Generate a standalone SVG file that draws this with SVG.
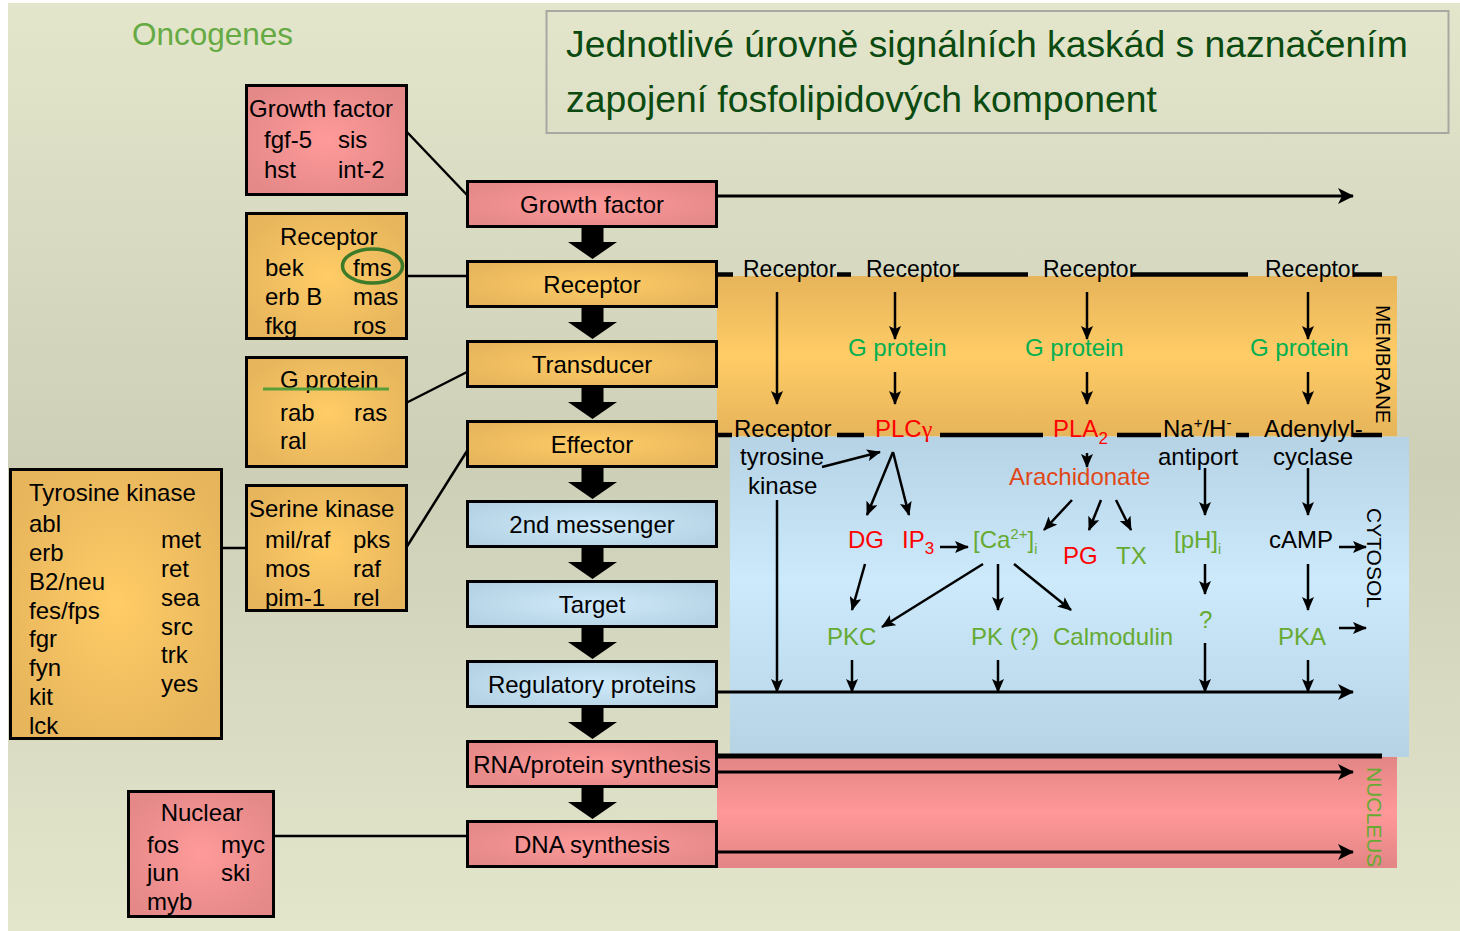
<svg xmlns="http://www.w3.org/2000/svg" width="1460" height="931" viewBox="0 0 1460 931">
<defs>
<linearGradient id="bg" x1="0" y1="0" x2="0" y2="1">
<stop offset="0" stop-color="#e3e6cb"/><stop offset="0.5" stop-color="#cdd0b7"/><stop offset="1" stop-color="#e3e6cb"/>
</linearGradient>
<radialGradient id="gPink" cx="0.5" cy="0.5" r="0.6">
<stop offset="0" stop-color="#ff9a9a"/><stop offset="1" stop-color="#e48888"/>
</radialGradient>
<radialGradient id="gOr" cx="0.5" cy="0.5" r="0.6">
<stop offset="0" stop-color="#ffcc66"/><stop offset="1" stop-color="#e6b55c"/>
</radialGradient>
<radialGradient id="gBlue" cx="0.5" cy="0.5" r="0.6">
<stop offset="0" stop-color="#cfeafa"/><stop offset="1" stop-color="#b4d2e4"/>
</radialGradient>
<linearGradient id="memG" x1="0" y1="0" x2="0" y2="1">
<stop offset="0" stop-color="#e6b45a"/><stop offset="0.5" stop-color="#ffcc66"/><stop offset="1" stop-color="#e6b45a"/>
</linearGradient>
<linearGradient id="cytG" x1="0" y1="0" x2="0" y2="1">
<stop offset="0" stop-color="#b6d3e6"/><stop offset="0.45" stop-color="#cceafb"/><stop offset="1" stop-color="#b6d3e6"/>
</linearGradient>
<linearGradient id="nucG" x1="0" y1="0" x2="0" y2="1">
<stop offset="0" stop-color="#e38585"/><stop offset="0.5" stop-color="#ff9898"/><stop offset="1" stop-color="#e38585"/>
</linearGradient>
<marker id="ah" markerWidth="14" markerHeight="12" refX="13" refY="6" orient="auto" markerUnits="userSpaceOnUse">
<path d="M0,0 L14,6 L0,12 L3,6 z" fill="#000"/>
</marker>
<marker id="ahL" markerWidth="16" markerHeight="16" refX="15" refY="8" orient="auto" markerUnits="userSpaceOnUse">
<path d="M0,0 L16,8 L0,16 L4,8 z" fill="#000"/>
</marker>
</defs>
<style>
text{font-family:"Liberation Sans",Arial,sans-serif;font-size:24px;fill:#000}
.box{stroke:#000;stroke-width:3}
.pk{fill:url(#gPink)} .or{fill:url(#gOr)} .bl{fill:url(#gBlue)}
.c{text-anchor:middle}
.ln{stroke:#000;stroke-width:2.5;fill:none}
.ar{stroke:#000;stroke-width:2.5;fill:none;marker-end:url(#ah)}
.arL{stroke:#000;stroke-width:3;fill:none;marker-end:url(#ahL)}
.mem{stroke:#000;stroke-width:4.5}
.red{fill:#ff0000} .gp{fill:#00b050} .gr{fill:#66aa33} .ora{fill:#e04818}
.sub{font-size:17px}
.sup{font-size:15px}
</style>
<rect x="0" y="0" width="1460" height="931" fill="#ffffff"/>
<rect x="8" y="3" width="1452" height="928" fill="url(#bg)"/>

<!-- title -->
<g id="title">
<rect x="546.5" y="11" width="902" height="122" fill="none" stroke="#a8a8a2" stroke-width="2"/>
<text x="566" y="57" style="font-size:37.3px;fill:#0b4a10">Jednotlivé úrovně signálních kaskád s naznačením</text>
<text x="566" y="112" style="font-size:37.3px;fill:#0b4a10">zapojení fosfolipidových komponent</text>
</g>
<text id="oncogenes" x="132" y="45" style="font-size:31.5px;fill:#66aa44">Oncogenes</text>

<!-- compartments -->
<g id="compartments">
<rect x="730" y="437" width="679" height="320" fill="url(#cytG)"/>
<rect x="717" y="276" width="680" height="160" fill="url(#memG)"/>
<rect x="717" y="757" width="680" height="111" fill="url(#nucG)"/>
<text transform="translate(1376,305) rotate(90)" style="font-size:20.5px">MEMBRANE</text>
<text transform="translate(1367,508) rotate(90)" style="font-size:21px">CYTOSOL</text>
<text transform="translate(1367,767) rotate(90)" style="font-size:21px;fill:#66aa33">NUCLEUS</text>
</g>

<!-- connectors -->
<g id="connectors">
<line class="ln" x1="406" y1="131" x2="467" y2="195"/>
<line class="ln" x1="406" y1="276" x2="467" y2="276"/>
<line class="ln" x1="406" y1="403" x2="467" y2="372"/>
<line class="ln" x1="406" y1="548" x2="467" y2="451"/>
<line class="ln" x1="221" y1="548" x2="246" y2="548"/>
<line class="ln" x1="273" y1="836" x2="467" y2="836"/>
<!-- long horizontal arrows -->
<line class="arL" x1="717" y1="196" x2="1353" y2="196"/>
<line class="arL" x1="717" y1="692" x2="1353" y2="692"/>
<line class="arL" x1="717" y1="772" x2="1353" y2="772"/>
<line class="arL" x1="717" y1="852" x2="1353" y2="852"/>
<!-- membrane dashes -->
<g class="mem">
<line x1="717" y1="274.5" x2="733" y2="274.5"/>
<line x1="837" y1="274.5" x2="851" y2="274.5"/>
<line x1="955" y1="274.5" x2="1028" y2="274.5"/>
<line x1="1132" y1="274.5" x2="1248" y2="274.5"/>
<line x1="1353" y1="274.5" x2="1382" y2="274.5"/>
<line x1="717" y1="435" x2="732" y2="435"/>
<line x1="837" y1="435" x2="864" y2="435"/>
<line x1="940" y1="435" x2="1043" y2="435"/>
<line x1="1117" y1="435" x2="1161" y2="435"/>
<line x1="1236" y1="435" x2="1249" y2="435"/>
<line x1="1353" y1="435" x2="1382" y2="435"/>
</g>
<line x1="717" y1="756" x2="1382" y2="756" stroke="#000" stroke-width="5"/>
<!-- membrane arrows -->
<line class="ar" x1="777" y1="292" x2="777" y2="404"/>
<line class="ar" x1="895" y1="292" x2="895" y2="339"/>
<line class="ar" x1="895" y1="372" x2="895" y2="404"/>
<line class="ar" x1="1087" y1="292" x2="1087" y2="339"/>
<line class="ar" x1="1087" y1="372" x2="1087" y2="404"/>
<line class="ar" x1="1308" y1="292" x2="1308" y2="339"/>
<line class="ar" x1="1308" y1="372" x2="1308" y2="404"/>
<!-- cytosol arrows -->
<line class="ar" x1="822" y1="467" x2="880" y2="452"/>
<line class="ar" x1="893" y1="452" x2="867" y2="515"/>
<line class="ar" x1="893" y1="452" x2="909" y2="515"/>
<line class="ar" x1="1087" y1="453" x2="1087" y2="467"/>
<line class="ar" x1="1072" y1="500" x2="1044" y2="530"/>
<line class="ar" x1="1101" y1="500" x2="1089" y2="530"/>
<line class="ar" x1="1116" y1="500" x2="1131" y2="530"/>
<line class="ar" x1="1205" y1="468" x2="1205" y2="515"/>
<line class="ar" x1="1308" y1="468" x2="1308" y2="515"/>
<line class="ar" x1="940" y1="547" x2="968" y2="547"/>
<line class="ar" x1="1339" y1="547" x2="1366" y2="547"/>
<line class="ar" x1="865" y1="564" x2="852" y2="610"/>
<line class="ar" x1="983" y1="564" x2="882" y2="627"/>
<line class="ar" x1="998" y1="564" x2="998" y2="610"/>
<line class="ar" x1="1014" y1="564" x2="1071" y2="610"/>
<line class="ar" x1="1205" y1="564" x2="1205" y2="594"/>
<line class="ar" x1="1308" y1="564" x2="1308" y2="610"/>
<line class="ar" x1="1339" y1="628" x2="1366" y2="628"/>
<line class="ar" x1="777" y1="500" x2="777" y2="692"/>
<line class="ar" x1="852" y1="660" x2="852" y2="692"/>
<line class="ar" x1="998" y1="660" x2="998" y2="692"/>
<line class="ar" x1="1205" y1="643" x2="1205" y2="692"/>
<line class="ar" x1="1308" y1="660" x2="1308" y2="692"/>
<!-- fat arrows -->
<g fill="#000">
<polygon points="581.5,226 603.5,226 603.5,242 617,242 592.5,259 568,242 581.5,242"/>
<polygon points="581.5,306 603.5,306 603.5,322 617,322 592.5,339 568,322 581.5,322"/>
<polygon points="581.5,386 603.5,386 603.5,402 617,402 592.5,419 568,402 581.5,402"/>
<polygon points="581.5,466 603.5,466 603.5,482 617,482 592.5,499 568,482 581.5,482"/>
<polygon points="581.5,546 603.5,546 603.5,562 617,562 592.5,579 568,562 581.5,562"/>
<polygon points="581.5,626 603.5,626 603.5,642 617,642 592.5,659 568,642 581.5,642"/>
<polygon points="581.5,706 603.5,706 603.5,722 617,722 592.5,739 568,722 581.5,722"/>
<polygon points="581.5,786 603.5,786 603.5,802 617,802 592.5,819 568,802 581.5,802"/>
</g>
</g>

<!-- membrane / cytosol labels -->
<g id="pathway-labels">
<text x="743" y="277" style="font-size:23px">Receptor</text>
<text x="866" y="277" style="font-size:23px">Receptor</text>
<text x="1043" y="277" style="font-size:23px">Receptor</text>
<text x="1265" y="277" style="font-size:23px">Receptor</text>
<text x="848" y="356" class="gp">G protein</text>
<text x="1025" y="356" class="gp">G protein</text>
<text x="1250" y="356" class="gp">G protein</text>
<text x="734" y="437">Receptor</text>
<text x="875" y="437" class="red">PLC<tspan style="font-family:'Liberation Serif',serif">γ</tspan></text>
<text x="1053" y="437" class="red">PLA<tspan dy="7" class="sub">2</tspan></text>
<text x="1163" y="437">Na<tspan dy="-9" class="sup">+</tspan><tspan dy="9">/H</tspan><tspan dy="-9" class="sup">-</tspan></text>
<text x="1264" y="437">Adenylyl-</text>
<text x="740" y="465">tyrosine</text>
<text x="748" y="494">kinase</text>
<text x="1009" y="485" class="ora">Arachidonate</text>
<text x="1158" y="465">antiport</text>
<text x="1273" y="465">cyclase</text>
<text x="848" y="548" class="red">DG</text>
<text x="902" y="548" class="red">IP<tspan dy="6" class="sub">3</tspan></text>
<text x="973" y="548" class="gr">[Ca<tspan dy="-9" class="sup">2+</tspan><tspan dy="9">]</tspan><tspan dy="6" style="font-size:14px">i</tspan></text>
<text x="1063" y="564" class="red">PG</text>
<text x="1116" y="564" class="gr">TX</text>
<text x="1174" y="548" class="gr">[pH]<tspan dy="6" style="font-size:14px">i</tspan></text>
<text x="1269" y="548">cAMP</text>
<text x="827" y="645" class="gr">PKC</text>
<text x="971" y="645" class="gr">PK (?)</text>
<text x="1053" y="645" class="gr">Calmodulin</text>
<text x="1199" y="628" class="gr">?</text>
<text x="1278" y="645" class="gr">PKA</text>
</g>

<!-- main cascade -->
<g id="main-growth-factor"><rect class="box pk" x="467.5" y="181.5" width="249" height="45"/><text class="c" x="592" y="213">Growth factor</text></g>
<g id="main-receptor"><rect class="box or" x="467.5" y="261.5" width="249" height="45"/><text class="c" x="592" y="293">Receptor</text></g>
<g id="main-transducer"><rect class="box or" x="467.5" y="341.5" width="249" height="45"/><text class="c" x="592" y="373">Transducer</text></g>
<g id="main-effector"><rect class="box or" x="467.5" y="421.5" width="249" height="45"/><text class="c" x="592" y="453">Effector</text></g>
<g id="main-2nd-messenger"><rect class="box bl" x="467.5" y="501.5" width="249" height="45"/><text class="c" x="592" y="533">2nd messenger</text></g>
<g id="main-target"><rect class="box bl" x="467.5" y="581.5" width="249" height="45"/><text class="c" x="592" y="613">Target</text></g>
<g id="main-regulatory"><rect class="box bl" x="467.5" y="661.5" width="249" height="45"/><text class="c" x="592" y="693">Regulatory proteins</text></g>
<g id="main-rna"><rect class="box pk" x="467.5" y="741.5" width="249" height="45"/><text class="c" x="592" y="773">RNA/protein synthesis</text></g>
<g id="main-dna"><rect class="box pk" x="467.5" y="821.5" width="249" height="45"/><text class="c" x="592" y="853">DNA synthesis</text></g>

<!-- oncogene boxes -->
<g id="onc-growth-factor">
<rect class="box pk" x="246.5" y="85.5" width="160" height="109"/>
<text x="249" y="117">Growth factor</text>
<text x="264" y="148">fgf-5</text><text x="338" y="148">sis</text>
<text x="264" y="178">hst</text><text x="338" y="178">int-2</text>
</g>
<g id="onc-receptor">
<rect class="box or" x="246.5" y="213.5" width="160" height="125"/>
<text x="280" y="245">Receptor</text>
<text x="265" y="276">bek</text><text x="353" y="276">fms</text>
<text x="265" y="305">erb B</text><text x="353" y="305">mas</text>
<text x="265" y="334">fkg</text><text x="353" y="334">ros</text>
<ellipse cx="372.5" cy="266" rx="30" ry="17" fill="none" stroke="#3d7a2a" stroke-width="3.5"/>
</g>
<g id="onc-g-protein">
<rect class="box or" x="246.5" y="357.5" width="160" height="109"/>
<text x="280" y="388">G protein</text>
<line x1="263" y1="389" x2="389" y2="389" stroke="#5a9e3a" stroke-width="3"/>
<text x="280" y="421">rab</text><text x="354" y="421">ras</text>
<text x="280" y="449">ral</text>
</g>
<g id="onc-serine-kinase">
<rect class="box or" x="246.5" y="485.5" width="160" height="125"/>
<text x="249" y="517">Serine kinase</text>
<text x="265" y="548">mil/raf</text><text x="353" y="548">pks</text>
<text x="265" y="577">mos</text><text x="353" y="577">raf</text>
<text x="265" y="606">pim-1</text><text x="353" y="606">rel</text>
</g>
<g id="onc-tyrosine-kinase">
<rect class="box or" x="10.5" y="469.5" width="211" height="269"/>
<text x="29" y="501">Tyrosine kinase</text>
<text x="29" y="532">abl</text>
<text x="29" y="561">erb</text>
<text x="29" y="590">B2/neu</text>
<text x="29" y="619">fes/fps</text>
<text x="29" y="647">fgr</text>
<text x="29" y="676">fyn</text>
<text x="29" y="705">kit</text>
<text x="29" y="734">lck</text>
<text x="161" y="548">met</text>
<text x="161" y="577">ret</text>
<text x="161" y="606">sea</text>
<text x="161" y="635">src</text>
<text x="161" y="663">trk</text>
<text x="161" y="692">yes</text>
</g>
<g id="onc-nuclear">
<rect class="box pk" x="128.5" y="791.5" width="145" height="125"/>
<text class="c" x="202" y="821">Nuclear</text>
<text x="147" y="853">fos</text><text x="221" y="853">myc</text>
<text x="147" y="881">jun</text><text x="221" y="881">ski</text>
<text x="147" y="910">myb</text>
</g>
</svg>
